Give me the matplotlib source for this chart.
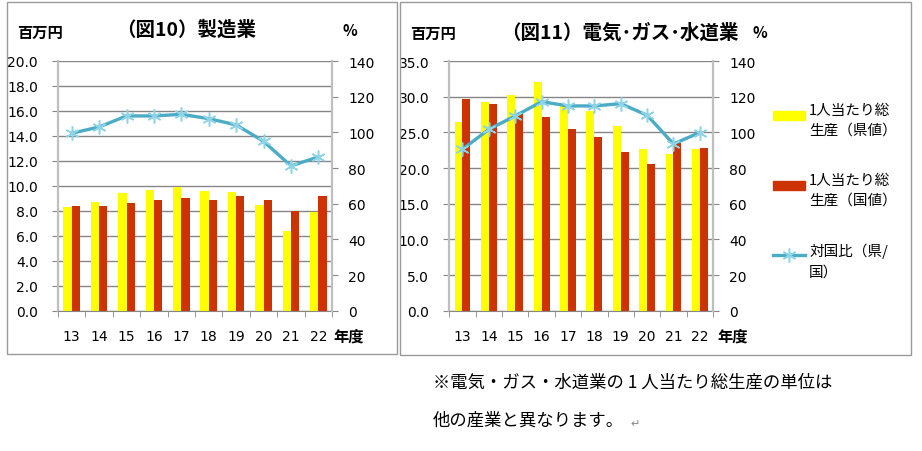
import matplotlib
matplotlib.use("Agg")
import matplotlib.pyplot as plt
from matplotlib.patches import Rectangle
from matplotlib.lines import Line2D
import numpy as np

W, H = 922, 452

years = ["13", "14", "15", "16", "17", "18", "19", "20", "21", "22"]

# 製造業 (百万円, %)
mfg_pref = [8.3, 8.7, 9.4, 9.7, 9.9, 9.6, 9.5, 8.5, 6.4, 7.9]
mfg_nat = [8.4, 8.4, 8.6, 8.9, 9.0, 8.9, 9.2, 8.9, 8.0, 9.2]
mfg_ratio = [99.5, 103.0, 109.2, 109.2, 110.1, 107.7, 104.2, 95.0, 81.2, 86.2]

# 電気・ガス・水道業 (百万円, %)
util_pref = [26.5, 29.3, 30.2, 32.0, 28.8, 28.0, 25.9, 22.7, 21.9, 22.7]
util_nat = [29.7, 29.0, 27.6, 27.2, 25.4, 24.3, 22.3, 20.6, 23.5, 22.8]
util_ratio = [90.5, 101.7, 109.2, 117.2, 114.8, 114.8, 116.1, 109.6, 93.5, 99.9]

legend_labels = ["1人当たり総\n生産（県値）", "1人当たり総\n生産（国値）", "対国比（県/\n国）"]

YELLOW = "#FFFF00"
RED = "#CC3300"
BLUE = "#4BACC6"
GRID = "#868686"
SPINE = "#BFBFBF"
JP = ["Noto Sans CJK JP", "DejaVu Sans"]

plt.rcParams["font.family"] = ["DejaVu Sans", "Noto Sans CJK JP"]


def fx(px):
    return px / W


def fy(py):
    return 1 - py / H


def draw_chart(fig, left, right, pref, nat, ratio, ymax, ystep):
    top, bottom = 62, 311.7
    ax = fig.add_axes([fx(left), fy(bottom), (right - left) / W, (bottom - top) / H])
    x = np.arange(len(years))
    ax.bar(x - 0.15, pref, 0.3, color=YELLOW, zorder=2)
    ax.bar(x + 0.15, nat, 0.3, color=RED, zorder=2)
    ax.set_xlim(-0.5, len(years) - 0.5)
    ax.set_ylim(0, ymax)
    ticks = np.arange(0, ymax + 0.001, ystep)
    ax.set_yticks(ticks)
    ax.set_yticklabels([f"{t:.1f}" for t in ticks])
    ax.yaxis.grid(True, color=GRID, lw=1)
    ax.set_axisbelow(True)
    for s in ["top", "right"]:
        ax.spines[s].set_visible(False)
    ax.spines["left"].set_color(SPINE)
    ax.spines["left"].set_linewidth(1.6)
    ax.spines["bottom"].set_color(GRID)
    ax.tick_params(axis="y", length=4.5, color=GRID, pad=10, labelsize=10)
    ax.set_xticks(x)
    ax.set_xticklabels(years)
    ax.set_xticks(np.arange(-0.5, len(years), 1), minor=True)
    ax.tick_params(axis="x", which="major", length=0, pad=13, labelsize=10)
    ax.tick_params(axis="x", which="minor", length=4.5, color=GRID)

    ax2 = ax.twinx()
    ax2.plot(x, ratio, color=BLUE, lw=2.4, marker=(6, 2, 0), ms=10,
             mec="#8FD3E6", mew=1.1, zorder=3)
    ax2.set_ylim(0, 140)
    ax2.set_yticks(np.arange(0, 141, 20))
    for s in ["top", "left", "bottom"]:
        ax2.spines[s].set_visible(False)
    ax2.spines["right"].set_color(SPINE)
    ax2.spines["right"].set_linewidth(1.6)
    ax2.tick_params(axis="y", length=4.5, color=GRID, pad=7, labelsize=10)
    return ax, ax2


fig = plt.figure(figsize=(W / 100, H / 100), dpi=100)

# chart frames
fig.patches.append(Rectangle((fx(7), fy(355)), (397 - 7) / W, (355 - 3) / H,
                             transform=fig.transFigure, fill=False, ec="#9A9A9A", lw=1))
fig.patches.append(Rectangle((fx(400), fy(356)), (911 - 400) / W, (356 - 3) / H,
                             transform=fig.transFigure, fill=False, ec="#9A9A9A", lw=1))

draw_chart(fig, 58, 332, mfg_pref, mfg_nat, mfg_ratio, 20, 2)
draw_chart(fig, 449.3, 713, util_pref, util_nat, util_ratio, 35, 5)

# titles and axis captions
fig.text(fx(186), fy(30), "（図10）製造業", family=JP, fontsize=14, fontweight="bold",
         ha="center", va="center")
fig.text(fx(40), fy(33), "百万円", family=JP, fontsize=11, fontweight="bold",
         ha="center", va="center")
fig.text(fx(350), fy(31), "%", family=JP, fontsize=11, fontweight="bold",
         ha="center", va="center")
fig.text(fx(349), fy(337), "年度", family=JP, fontsize=11, fontweight="bold",
         ha="center", va="center")

fig.text(fx(620), fy(33), "（図11）電気･ガス･水道業", family=JP, fontsize=14,
         fontweight="bold", ha="center", va="center")
fig.text(fx(433), fy(34), "百万円", family=JP, fontsize=11, fontweight="bold",
         ha="center", va="center")
fig.text(fx(760), fy(33), "%", family=JP, fontsize=11, fontweight="bold",
         ha="center", va="center")
fig.text(fx(733), fy(337), "年度", family=JP, fontsize=11, fontweight="bold",
         ha="center", va="center")

# legend for chart 11
fig.patches.append(Rectangle((fx(773), fy(121)), 32 / W, 9 / H,
                             transform=fig.transFigure, color=YELLOW))
fig.patches.append(Rectangle((fx(773), fy(191)), 32 / W, 9 / H,
                             transform=fig.transFigure, color=RED))
fig.add_artist(Line2D([fx(773), fx(805)], [fy(256), fy(256)], color=BLUE, lw=2.4,
                      transform=fig.transFigure))
fig.add_artist(Line2D([fx(789)], [fy(256)], color=BLUE, marker=(6, 2, 0), ms=10,
                      mec="#8FD3E6", mew=1.1, transform=fig.transFigure))
for lab, ytop in zip(legend_labels, [104, 174, 244]):
    fig.text(fx(809), fy(ytop), lab, family=JP, fontsize=10.5, ha="left", va="top",
             linespacing=1.55)

# note
fig.text(fx(433), fy(383), "※電気・ガス・水道業の 1 人当たり総生産の単位は", family=JP,
         fontsize=12.5, ha="left", va="center")
fig.text(fx(433), fy(421), "他の産業と異なります。", family=JP,
         fontsize=12.5, ha="left", va="center")
fig.text(fx(630), fy(424), "↵", family=JP, fontsize=8, color="#888888",
         ha="left", va="center")

fig.savefig("out.png", dpi=100)
